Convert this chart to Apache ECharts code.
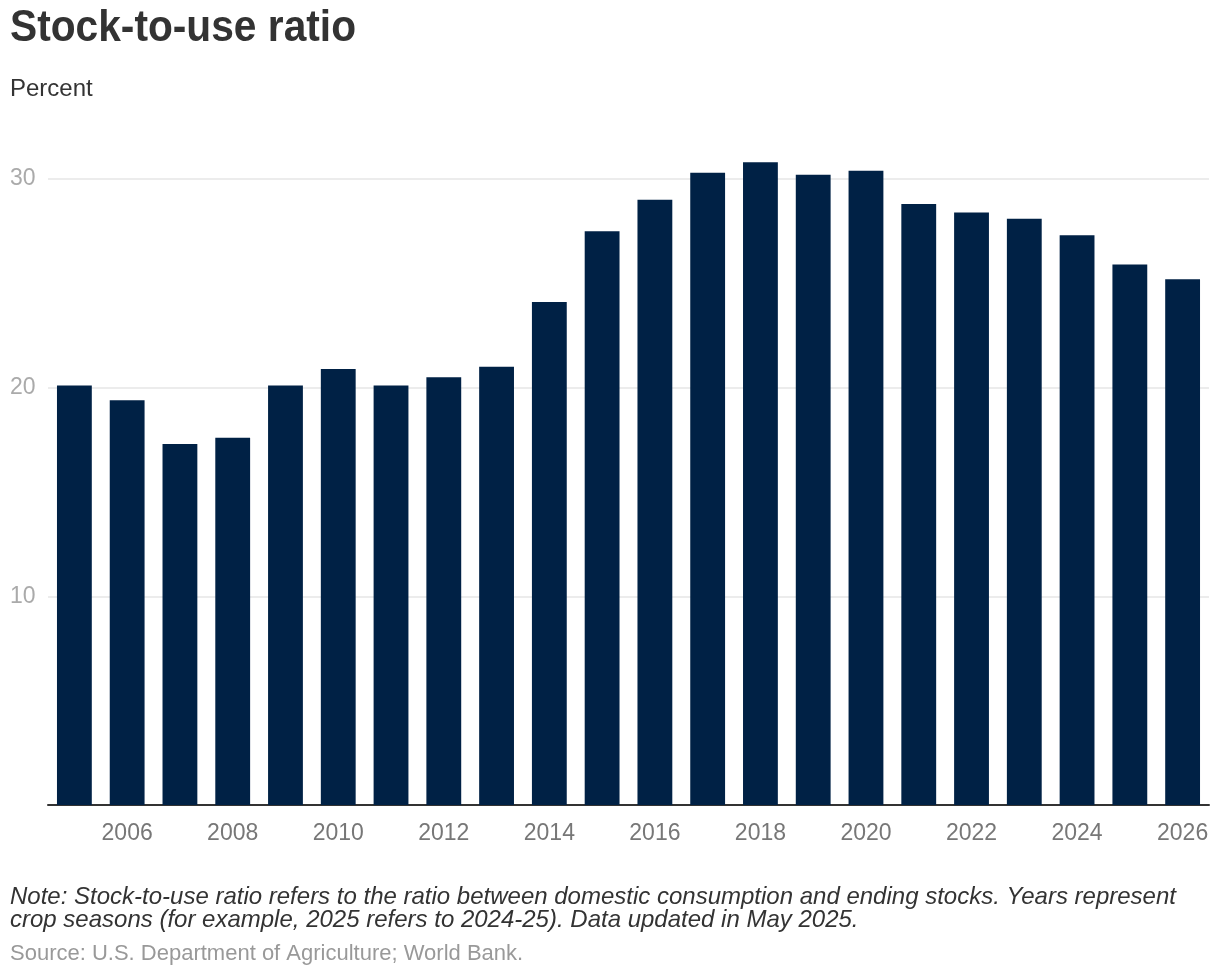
<!DOCTYPE html>
<html><head><meta charset="utf-8">
<script src="https://cdn.jsdelivr.net/npm/echarts@6/dist/echarts.min.js"></script>
<style>html,body{margin:0;padding:0;background:#fff}#c{width:1220px;height:978px}</style>
</head><body><div id="c"></div>
<script>
const years = ['2005','2006','2007','2008','2009','2010','2011','2012','2013','2014','2015','2016','2017','2018','2019','2020','2021','2022','2023','2024','2025','2026'];
const ratio = [20.1,19.4,17.3,17.6,20.1,20.9,20.1,20.5,21.0,24.1,27.5,29.0,30.3,30.8,30.2,30.4,28.8,28.4,28.1,27.3,25.9,25.2];
const titleText = 'Stock-to-use ratio';
const subtitleText = 'Percent';
const noteText = 'Note: Stock-to-use ratio refers to the ratio between domestic consumption and ending stocks. Years represent\ncrop seasons (for example, 2025 refers to 2024-25). Data updated in May 2025.';
const sourceText = 'Source: U.S. Department of Agriculture; World Bank.';

const chart = echarts.init(document.getElementById('c'));
const F = 'Liberation Sans, Arial, Helvetica, sans-serif';
chart.setOption({
  animation: false,
  graphic: [
    {type:'text', x:10, y:7, scaleX:0.925, style:{x:0, y:0, text:titleText, font:'bold 44px '+F, fill:'#333', verticalAlign:'top'}},
    {type:'text', left:10, top:77, style:{text:subtitleText, font:'24px '+F, fill:'#333'}},
    {type:'text', left:10, top:885, style:{text:noteText, font:'italic 24px '+F, fill:'#333', lineHeight:23}},
    {type:'text', left:10, top:943, style:{text:sourceText, font:'22px '+F, fill:'#999'}}
  ],
  grid: {left:48, right:11, top:179, bottom:173, containLabel:false},
  xAxis: {
    type:'category', data: years,
    axisLine:{show:true, lineStyle:{color:'#333', width:2}},
    axisTick:{show:false},
    axisLabel:{interval:(i)=>i%2===1, color:'#777', fontSize:23, fontFamily:F, margin:17}
  },
  yAxis: {
    type:'value', min:0, max:30, interval:10,
    axisLine:{show:false}, axisTick:{show:false},
    splitLine:{lineStyle:{color:'#e6e6e6', width:1.5}},
    axisLabel:{color:'#aaa', fontSize:23, fontFamily:F, align:'left', margin:38, verticalAlign:'middle',
      formatter:(v)=> v===0 ? '' : String(v)}
  },
  series: [{
    type:'bar', data: ratio, clip:false, barWidth:'66%',
    itemStyle:{color:'#002145'}
  }]
});
</script></body></html>
